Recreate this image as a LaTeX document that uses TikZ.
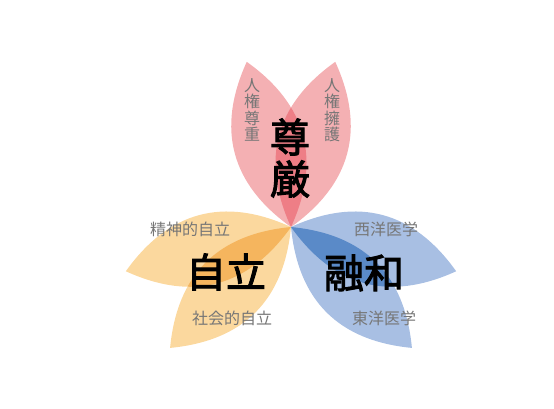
\documentclass[tikz,border=0pt]{standalone}
\usepackage{fontspec}
\usepackage{xcolor}
\usepackage{tikz}
\usetikzlibrary{positioning}

\newfontfamily\jpfont{Noto Sans CJK JP}
\newfontfamily\jpbold[FakeBold=2.5]{Noto Sans CJK JP}

\definecolor{redlight}{HTML}{F4B0B3}
\definecolor{reddark}{HTML}{EE7E86}
\definecolor{orangelight}{HTML}{FBD89E}
\definecolor{orangedark}{HTML}{F5B55E}
\definecolor{bluelight}{HTML}{A8BFE3}
\definecolor{bluedark}{HTML}{5A8AC8}
\definecolor{labelgray}{RGB}{118,118,118}

% one leaf, from the centre to its tip along the x axis
\newcommand{\leaf}{(0,0) .. controls (57,47) and (114,47) .. (171,0) .. controls (114,-47) and (57,-47) .. (0,0)}

\begin{document}
\begin{tikzpicture}[
    x=1pt, y=-1pt,
    leafat/.style={shift={(ctr)}, rotate=#1},
    theme/.style={font=\jpbold\fontsize{40}{42}\selectfont, text=black, align=center, inner sep=0pt},
    sublabel/.style={font=\jpfont\fontsize{16}{16.5}\selectfont, text=labelgray, align=center, inner sep=0pt}
]
\useasboundingbox (0,0) rectangle (554,409);
\coordinate (ctr) at (291,227);

% dignity
\fill[redlight, leafat=105] \leaf;
\fill[redlight, leafat=75] \leaf;
\begin{scope}
  \clip[leafat=105] \leaf;
  \fill[reddark, leafat=75] \leaf;
\end{scope}

% independence
\fill[orangelight, leafat=195] \leaf;
\fill[orangelight, leafat=225] \leaf;
\begin{scope}
  \clip[leafat=195] \leaf;
  \fill[orangedark, leafat=225] \leaf;
\end{scope}

% harmony
\fill[bluelight, leafat=345] \leaf;
\fill[bluelight, leafat=315] \leaf;
\begin{scope}
  \clip[leafat=345] \leaf;
  \fill[bluedark, leafat=315] \leaf;
\end{scope}

\node[theme] (songen) at (290,158) {尊\\厳};
\node[theme] (jiritsu) at (226,272) {自立};
\node[theme] (yuwa) at (364,273) {融和};

\node[sublabel] (sonchou) at (252,110) {人\\権\\尊\\重};
\node[sublabel] (yougo) at (332,110) {人\\権\\擁\\護};
\node[sublabel] (seishin) at (190,229) {精神的自立};
\node[sublabel] (shakai) at (232,318) {社会的自立};
\node[sublabel] (seiyou) at (386,229) {西洋医学};
\node[sublabel] (touyou) at (384,318) {東洋医学};

\end{tikzpicture}
\end{document}
